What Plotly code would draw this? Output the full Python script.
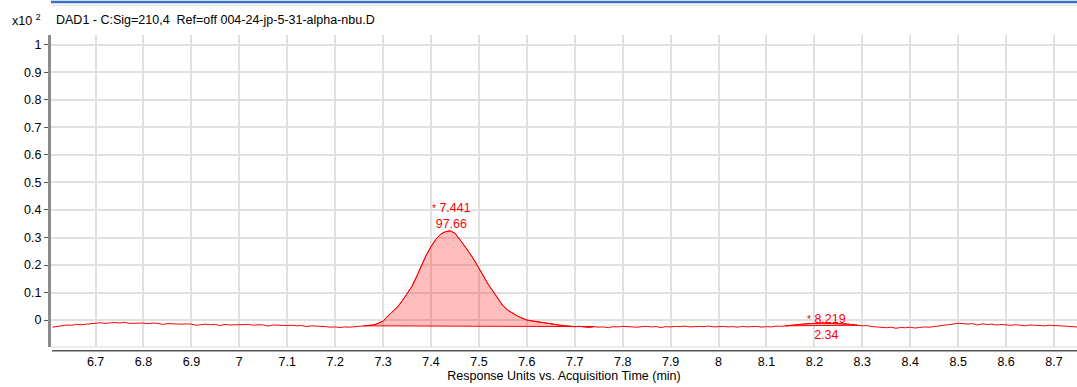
import numpy as np
import plotly.graph_objects as go

# DAD1 signal (x10^2 response units), sampled every 0.01 min from 6.61 to 8.75
signal = [
    -0.026, -0.023, -0.021, -0.018, -0.019, -0.016, -0.017, -0.015, -0.013, -0.012,  # 6.61-6.70
    -0.010, -0.012, -0.010, -0.009, -0.011, -0.008, -0.012, -0.012, -0.010, -0.011,  # 6.71-6.80
    -0.013, -0.011, -0.012, -0.016, -0.013, -0.014, -0.013, -0.015, -0.014, -0.015,  # 6.81-6.90
    -0.019, -0.016, -0.015, -0.017, -0.016, -0.020, -0.016, -0.018, -0.017, -0.016,  # 6.91-7.00
    -0.017, -0.016, -0.019, -0.017, -0.018, -0.022, -0.018, -0.019, -0.018, -0.020,  # 7.01-7.10
    -0.019, -0.021, -0.020, -0.024, -0.021, -0.022, -0.021, -0.024, -0.026, -0.025,  # 7.11-7.20
    -0.027, -0.025, -0.026, -0.024, -0.023, -0.021, -0.020, -0.018, -0.012, -0.004,  # 7.21-7.30
    0.015, 0.030, 0.047, 0.070, 0.095, 0.122, 0.158, 0.200, 0.236, 0.267,  # 7.31-7.40
    0.293, 0.312, 0.321, 0.324, 0.315, 0.293, 0.270, 0.245, 0.218, 0.188,  # 7.41-7.50
    0.155, 0.128, 0.103, 0.076, 0.052, 0.036, 0.025, 0.015, 0.007, 0.000,  # 7.51-7.60
    -0.003, -0.006, -0.009, -0.012, -0.014, -0.017, -0.019, -0.021, -0.023, -0.024,  # 7.61-7.70
    -0.023, -0.025, -0.026, -0.024, -0.026, -0.025, -0.028, -0.024, -0.025, -0.023,  # 7.71-7.80
    -0.024, -0.023, -0.026, -0.024, -0.023, -0.025, -0.024, -0.027, -0.024, -0.025,  # 7.81-7.90
    -0.023, -0.024, -0.022, -0.025, -0.023, -0.023, -0.024, -0.022, -0.025, -0.024,  # 7.91-8.00
    -0.023, -0.025, -0.024, -0.026, -0.023, -0.025, -0.024, -0.023, -0.026, -0.024,  # 8.01-8.10
    -0.025, -0.022, -0.023, -0.021, -0.020, -0.018, -0.016, -0.014, -0.013, -0.012,  # 8.11-8.20
    -0.011, -0.011, -0.012, -0.012, -0.013, -0.014, -0.015, -0.017, -0.019, -0.021,  # 8.21-8.30
    -0.020, -0.024, -0.025, -0.026, -0.028, -0.026, -0.030, -0.027, -0.028, -0.026,  # 8.31-8.40
    -0.029, -0.027, -0.025, -0.026, -0.023, -0.022, -0.019, -0.017, -0.014, -0.012,  # 8.41-8.50
    -0.013, -0.015, -0.013, -0.018, -0.014, -0.016, -0.015, -0.018, -0.016, -0.017,  # 8.51-8.60
    -0.019, -0.017, -0.018, -0.021, -0.018, -0.019, -0.018, -0.021, -0.019, -0.020,  # 8.61-8.70
    -0.019, -0.022, -0.021, -0.024, -0.026,  # 8.71-8.75
]
time = np.round(np.arange(len(signal)) * 0.01 + 6.61, 2)

# integrated peaks
peak_rt = [7.441, 8.219]
peak_area = [97.66, 2.34]
peak_start = [7.26, 8.14]
peak_end = [7.74, 8.29]

x_ticks = [round(6.7 + 0.1 * i, 1) for i in range(21)]
y_ticks = [round(0.1 * i, 1) for i in range(11)]

RED = "#ff0000"
FONT = "Liberation Sans, Arial, sans-serif"

sig = np.array(signal)
fig = go.Figure()

# shaded integration areas with straight baselines
for s, e in zip(peak_start, peak_end):
    m = (time >= s - 1e-9) & (time <= e + 1e-9)
    xs = list(time[m])
    ys = list(sig[m])
    fig.add_trace(go.Scatter(
        x=xs + [xs[-1], xs[0]],
        y=ys + [ys[-1], ys[0]],
        fill="toself", fillcolor="rgba(255,0,0,0.26)",
        line=dict(color=RED, width=1), mode="lines",
        hoverinfo="skip", showlegend=False,
    ))

fig.add_trace(go.Scatter(
    x=time, y=sig, mode="lines",
    line=dict(color=RED, width=1), showlegend=False,
))

# peak labels: retention time over area
for i, (rt, area) in enumerate(zip(peak_rt, peak_area)):
    apex = sig[np.argmin(np.abs(time - rt))]
    big = i == 0
    fig.add_annotation(
        x=rt, y=apex, xref="x", yref="y",
        text=f"<span style='font-size:10px'>*</span> {rt:.3f}<br>{area:.2f}",
        showarrow=False, font=dict(color=RED, size=12.5, family=FONT),
        yanchor="bottom" if big else "middle", yshift=-2 if big else -4,
        xshift=1 if big else 3,
    )

fig.add_annotation(
    x=-0.04, y=1.048, xref="paper", yref="paper", xanchor="left", yanchor="middle",
    text="x10 <sup>2</sup>", showarrow=False, font=dict(size=12.5, family=FONT, color="#000"),
)
fig.add_annotation(
    x=0.003, y=1.048, xref="paper", yref="paper", xanchor="left", yanchor="middle",
    text="DAD1 - C:Sig=210,4  Ref=off 004-24-jp-5-31-alpha-nbu.D",
    showarrow=False, font=dict(size=12.5, family=FONT, color="#000"),
)

# header bar, plot bottom edge and bottom axis line
fig.add_shape(type="line", xref="paper", yref="paper", x0=0, x1=1, y0=1.106, y1=1.106,
              line=dict(color="#3b6fc6", width=2.5))
fig.add_shape(type="line", xref="paper", yref="paper", x0=0, x1=1, y0=1.095, y1=1.095,
              line=dict(color="#e6e6e6", width=1.5))
fig.add_shape(type="line", xref="paper", yref="paper", x0=0, x1=1, y0=0, y1=0,
              line=dict(color="#e6e6e6", width=1.5))
fig.add_shape(type="line", xref="paper", yref="paper", x0=0.001, x1=1, y0=-0.012, y1=-0.012,
              line=dict(color="#555555", width=1.5))

fig.update_layout(
    width=1077, height=387,
    margin=dict(l=51, r=0, t=35, b=40),
    paper_bgcolor="white", plot_bgcolor="white",
    font=dict(family=FONT, size=12.5, color="#000"),
    xaxis=dict(
        range=[6.607, 8.748], tickvals=x_ticks, automargin=False,
        showgrid=True, gridcolor="#e0e0e0", gridwidth=1.5,
        zeroline=False, showline=False,
        ticks="outside", ticklen=3, tickcolor="rgba(0,0,0,0)",
        title=dict(text="Response Units vs. Acquisition Time (min)", standoff=2,
                   font=dict(size=12.5)),
    ),
    yaxis=dict(
        range=[-0.098, 1.036], tickvals=y_ticks, automargin=False,
        showgrid=True, gridcolor="#e0e0e0", gridwidth=1.5,
        zeroline=False, showline=True, linecolor="#8c8c8c", linewidth=3,
        ticks="outside", ticklen=4, tickcolor="#555555",
    ),
)

# drop the browser's default body margin so the figure fills the window
fig.write_html("out.html", config={"displayModeBar": False},
               post_script="document.body.style.margin='0';")
